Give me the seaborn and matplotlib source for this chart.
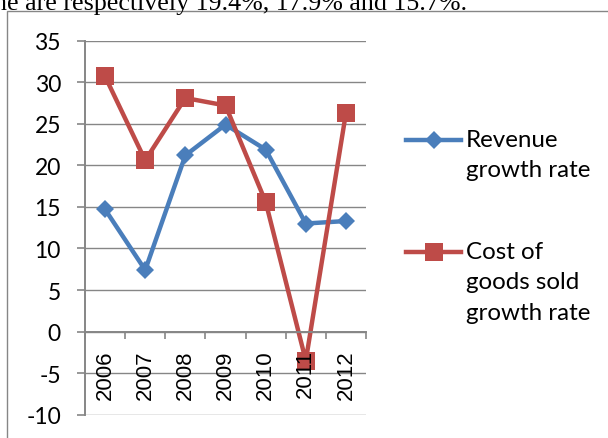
import matplotlib
matplotlib.use("Agg")
import matplotlib.pyplot as plt
from matplotlib.patches import Rectangle
import pandas as pd
import seaborn as sns

# chart values
years = ["2006", "2007", "2008", "2009", "2010", "2011", "2012"]
revenue_growth = [14.7, 7.4, 21.2, 24.9, 21.9, 13.0, 13.3]
cogs_growth = [30.7, 20.6, 28.1, 27.2, 15.6, -3.5, 26.3]
series_names = ["Revenue\ngrowth rate", "Cost of\ngoods sold\ngrowth rate"]
y_ticks = list(range(-10, 40, 5))

blue = "#4A7EBB"
red = "#BE4B48"
grey = "#868686"

df = pd.DataFrame({
    "year": years * 2,
    "value": revenue_growth + cogs_growth,
    "series": [series_names[0]] * len(years) + [series_names[1]] * len(years),
})

plt.rcParams["font.family"] = ["Lato", "DejaVu Sans"]
plt.rcParams["axes.unicode_minus"] = False

fig = plt.figure(figsize=(6.08, 4.39), dpi=100)
ax = fig.add_axes([0.1398, 0.0531, 0.4622, 0.852])

sns.lineplot(data=df, x="year", y="value", hue="series", style="series",
             markers=["D", "s"], dashes=False, palette=[blue, red],
             linewidth=3.2, markeredgewidth=0, ax=ax)

sizes = [9.2, 13.5]
for line, ms in zip(ax.lines, sizes):
    line.set_markersize(ms)

ax.set_xlim(-0.5, len(years) - 0.5)
ax.set_ylim(-10, 35)
ax.set_xlabel("")
ax.set_ylabel("")

# gridlines behind the data, axis (tick labels) on top
ax.grid(False)
for v in y_ticks:
    ax.axhline(v, color=grey, lw=1.0, zorder=1)
ax.set_axisbelow(False)

for s in ["top", "right"]:
    ax.spines[s].set_visible(False)
ax.spines["left"].set_color(grey)
ax.spines["left"].set_linewidth(1.4)
ax.spines["bottom"].set_position(("data", 0))
ax.spines["bottom"].set_color(grey)
ax.spines["bottom"].set_linewidth(1.4)

ax.set_yticks(y_ticks)
ax.tick_params(axis="y", direction="out", length=5.8, width=1.2, color=grey,
               pad=11.5, labelsize=16.5)
ax.set_xticks(range(len(years)))
ax.set_xticklabels(years, rotation=90, fontsize=16, family="Liberation Sans", va="top")
ax.set_xticks([i - 0.5 for i in range(len(years) + 1)], minor=True)
ax.tick_params(axis="x", which="major", length=0, pad=12.7)
ax.tick_params(axis="x", which="minor", direction="out", length=5, width=1.2, color=grey)

handles, labels = ax.get_legend_handles_labels()
leg = ax.legend(handles, labels, loc="upper left", bbox_to_anchor=(0.6673, 0.7036),
                bbox_transform=fig.transFigure, frameon=False, fontsize=17.4,
                handlelength=2.3, handleheight=1.4, handletextpad=0.18,
                labelspacing=2.5, borderpad=0, borderaxespad=0)
for t in leg.get_texts():
    t.set_linespacing(1.55)
for h, ms in zip(leg.legend_handles, sizes):
    h.set_markersize(ms)
    h.set_linewidth(3.2)
    h.set_markeredgewidth(0)
for col in leg._legend_handle_box.get_children():
    for row in col.get_children():
        row.align = "top"

# chart frame and the line of body text above it
fig.patches.append(Rectangle((7 / 608, -0.2), 1.2, 0.2 + 1 - 12 / 439,
                             transform=fig.transFigure, fill=False,
                             edgecolor=grey, lw=1.0))
fig.text(-6 / 608, 1 - 10 / 439, "ne are respectively 19.4%, 17.9% and 15.7%.",
         family="Liberation Serif", fontsize=18.7, va="baseline", ha="left")

fig.savefig("out.png", dpi=100)
